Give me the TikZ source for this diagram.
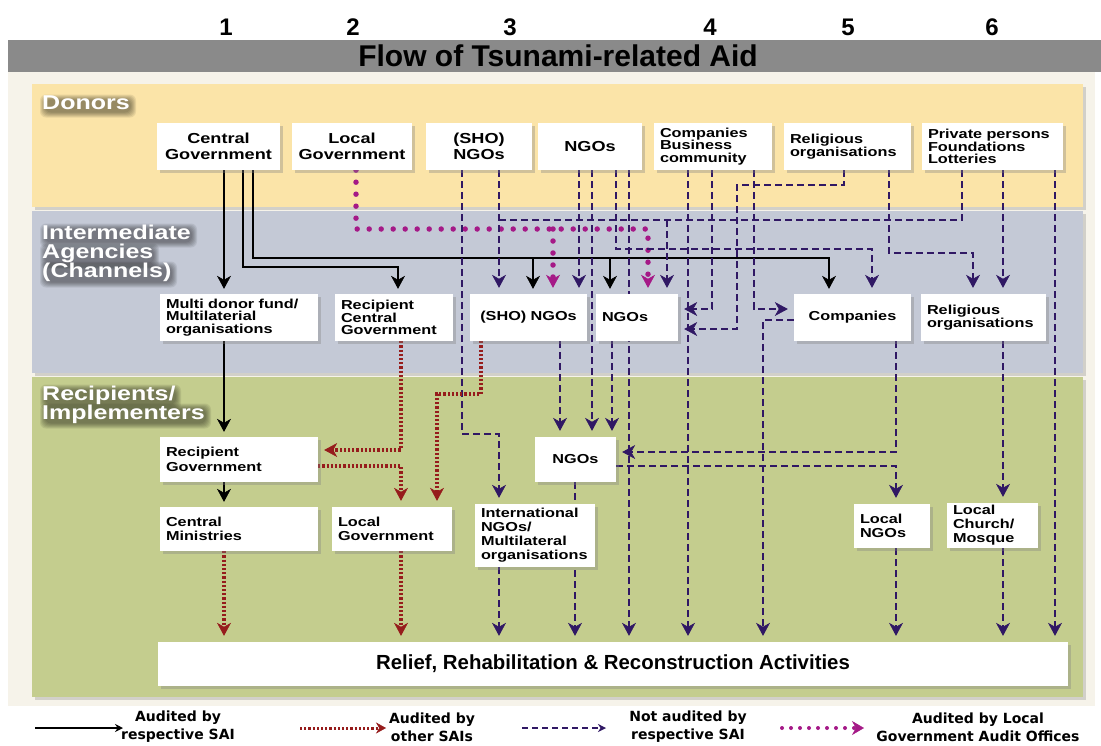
\documentclass[tikz,border=0pt]{standalone}
\usepackage{fontspec}
\setmainfont{Liberation Sans}
\newfontfamily\bxfont{Liberation Sans}[FakeStretch=1.25]
\newfontfamily\lgfont{DejaVu Sans}
\usetikzlibrary{arrows.meta,shadows,calc}
\definecolor{navyc}{RGB}{48,24,100}
\definecolor{maroonc}{RGB}{150,28,28}
\definecolor{magc}{RGB}{165,25,135}
\definecolor{donc}{RGB}{251,228,168}
\definecolor{intc}{RGB}{196,201,214}
\definecolor{recc}{RGB}{196,205,142}
\definecolor{creamc}{RGB}{246,243,234}
\definecolor{barc}{RGB}{138,138,138}
\pgfdeclarelayer{bg}
\pgfdeclarelayer{lines}
\pgfsetlayers{bg,lines,main}
\newcommand\fbig{\bxfont\bfseries\fontsize{14.5}{16.5}\selectfont}
\newcommand\fsm{\bxfont\bfseries\fontsize{13}{12.5}\selectfont}
\newcommand\frec{\bxfont\bfseries\fontsize{13}{14.5}\selectfont}
\newcommand\mybox[7]{%
 \pgfmathsetmacro\bxw{#4-#2-12}%
 \pgfmathsetmacro\bxh{#5-#3}%
 \pgfmathsetmacro\bxcx{(#2+#4)/2}%
 \pgfmathsetmacro\bxcy{(#3+#5)/2}%
 \node[box,#6,text width=\bxw pt,minimum height=\bxh pt] (#1) at (\bxcx,\bxcy) {#7};}
% soft dark glow behind a panel label line
\newcommand\softsh[4]{%
 \foreach \i in {0,...,5}{%
  \fill[black,opacity=0.08,rounded corners=6pt] (#1-4+\i+2,#2-4+\i+2.5) rectangle (#3+4-\i+2,#4+4-\i+2.5);}}
\tikzset{
 box/.style={fill=white,inner xsep=6pt,inner ysep=2pt,
   drop shadow={shadow xshift=2.5pt,shadow yshift=-2.5pt,opacity=0.35}},
 tipa/.style={-{Stealth[length=13pt,width=14pt,inset=4pt,line width=0.6pt]}},
 blk/.style={draw=black,line width=1.8pt,tipa,shorten >=5pt},
 nav/.style={draw=navyc,line width=1.8pt,dash pattern=on 7pt off 4pt,tipa,shorten >=6pt},
 navn/.style={draw=navyc,line width=1.8pt,dash pattern=on 7pt off 4pt},
 rdot/.style={draw=maroonc,line width=3.6pt,dash pattern=on 2.2pt off 2pt,tipa,shorten >=6pt},
 mdot/.style={draw=magc,line width=5.5pt,line cap=round,dash pattern=on 0pt off 12pt,tipa,shorten >=6pt},
 lbl/.style={anchor=north west,inner sep=0pt,align=left,text=white,font=\bxfont\bfseries\fontsize{20}{19}\selectfont},
 num/.style={font=\bfseries\fontsize{24}{26}\selectfont,inner sep=0pt},
 lgt/.style={align=center,inner sep=0pt,font=\lgfont\bfseries\fontsize{14}{18}\selectfont},
}
\begin{document}
\begin{tikzpicture}[x=1pt,y=-1pt]
\useasboundingbox (0,0) rectangle (1101,745);
\begin{pgfonlayer}{bg}
 \fill[white] (0,0) rectangle (1101,745);
 \fill[creamc] (8,72) rectangle (1095,706);
 \fill[barc] (8,40) rectangle (1101,72);
 \fill[donc,drop shadow={shadow xshift=3pt,shadow yshift=-3pt,opacity=0.3}] (32,84) rectangle (1083,207);
 \fill[intc,drop shadow={shadow xshift=3pt,shadow yshift=-3pt,opacity=0.3}] (32,211) rectangle (1083,373);
 \fill[recc,drop shadow={shadow xshift=3pt,shadow yshift=-3pt,opacity=0.3}] (32,377) rectangle (1083,697);
 % soft glows behind the panel labels
 \softsh{42}{96}{130}{111}
 \softsh{42}{225}{191}{241}
 \softsh{42}{245}{153}{262}
 \softsh{42}{263}{171}{281}
 \softsh{42}{386}{175}{403}
 \softsh{42}{405}{205}{422}
\end{pgfonlayer}

\foreach \x in {224,243,253,356,398,401,437,462,481,499,533,553,560,575,579,592,610,612,616,629,648,667,688,712,737,754,763,829,844,872,889,896,962,973,1003,1055}
  \coordinate (c\x) at (\x,0);
\foreach \y in {185,220,229,249,253,258,267,309,320,329,394,434,450,452,466}
  \coordinate (r\y) at (0,\y);

% title and column numbers
\node[font=\bfseries\fontsize{30}{32}\selectfont,inner sep=0pt] (title) at (558,56) {Flow of Tsunami-related Aid};
\node[num] (n1) at (226,27) {1};
\node[num] (n2) at (353,27) {2};
\node[num] (n3) at (510,27) {3};
\node[num] (n4) at (710,27) {4};
\node[num] (n5) at (848,27) {5};
\node[num] (n6) at (992,27) {6};

% panel labels
\node[lbl] (ldon) at (42,96) {Donors};
\node[lbl] (lint) at (42,225) {Intermediate\\Agencies\\(Channels)};
\node[lbl] (lrec) at (42,386) {Recipients/\\Implementers};

% donors
\mybox{dcg}{157}{123}{280}{170}{align=center,font=\fbig}{Central\\Government}
\mybox{dlg}{292}{123}{412}{170}{align=center,font=\fbig}{Local\\Government}
\mybox{dsho}{426}{123}{532}{170}{align=center,font=\fbig}{(SHO)\\NGOs}
\mybox{dngo}{538}{123}{642}{170}{align=center,font=\fbig}{NGOs}
\mybox{dcomp}{654}{123}{772}{170}{align=left,font=\fsm}{Companies\\Business\\community}
\mybox{drel}{784}{123}{911}{170}{align=left,font=\fsm}{Religious\\organisations}
\mybox{dpriv}{922}{123}{1063}{170}{align=left,font=\fsm}{Private persons\\Foundations\\Lotteries}

% intermediate
\mybox{imd}{160}{294}{318}{341}{align=left,font=\fsm}{Multi donor fund/\\Multilaterial\\organisations}
\mybox{irc}{335}{294}{453}{341}{align=left,font=\fsm}{Recipient\\Central\\Government}
\mybox{isho}{470}{294}{587}{341}{align=center,font=\fsm}{(SHO) NGOs}
\mybox{ingo}{596}{294}{678}{341}{align=left,font=\fsm}{NGOs}
\mybox{icomp}{794}{294}{911}{341}{align=center,font=\fsm}{Companies}
\mybox{irel}{921}{294}{1046}{341}{align=left,font=\fsm}{Religious\\organisations}

% recipients
\mybox{rrg}{160}{437}{318}{482}{align=left,font=\frec}{Recipient\\Government}
\mybox{rcm}{160}{507}{318}{551}{align=left,font=\frec}{Central\\Ministries}
\mybox{rlg}{332}{507}{452}{551}{align=left,font=\frec}{Local\\Government}
\mybox{rngo}{535}{437}{616}{482}{align=center,font=\frec}{NGOs}
\mybox{rint}{475}{504}{595}{567}{align=left,font=\bxfont\bfseries\fontsize{13}{14}\selectfont}{International\\NGOs/\\Multilateral\\organisations}
\mybox{rlngo}{854}{504}{930}{548}{align=left,font=\frec}{Local\\NGOs}
\mybox{rchurch}{947}{503}{1038}{548}{align=left,font=\bxfont\bfseries\fontsize{13}{14}\selectfont}{Local\\Church/\\Mosque}
\node[box,font=\bfseries\fontsize{20.4}{22}\selectfont,minimum width=910pt,minimum height=44pt] (relief) at (613,664) {Relief, Rehabilitation \& Reconstruction Activities};

% legend
\coordinate (lg1a) at (35,728); \coordinate (lg1b) at (123,728);
\coordinate (lg2a) at (300,728); \coordinate (lg2b) at (386,728);
\coordinate (lg3a) at (522,728); \coordinate (lg3b) at (606,728);
\coordinate (lg4a) at (782,728); \coordinate (lg4b) at (864,728);
\node[lgt] (lt1) at (178,727) {Audited by\\respective SAI};
\node[lgt] (lt2) at (432,727) {Audited by\\other SAIs};
\node[lgt] (lt3) at (688,727) {Not audited by\\respective SAI};
\node[lgt] (lt4) at (978,727) {Audited by Local\\Government Audit Offices};
\draw[black,line width=1.5pt,-{Stealth[length=8pt,width=8pt]}] (lg1a) -- (lg1b);
\draw[maroonc,line width=3pt,dash pattern=on 2.2pt off 2pt,-{Stealth[length=10pt,width=11pt,line width=0.5pt]}] (lg2a) -- (lg2b);
\draw[navyc,line width=1.6pt,dash pattern=on 6pt off 4pt,-{Stealth[length=8pt,width=8pt,line width=0.5pt]}] (lg3a) -- (lg3b);
\draw[magc,line width=4pt,line cap=round,dash pattern=on 0pt off 9pt,-{Stealth[length=12pt,width=14pt,line width=0.5pt]}] (lg4a) -- (lg4b);

\begin{pgfonlayer}{lines}
% black: audited by respective SAI
\draw[blk] (dcg.south -| c224) -- (imd.north -| c224);
\draw[blk] (dcg.south -| c243) |- (c398 |- r267) -- (irc.north -| c398);
\draw[blk] (dcg.south -| c253) |- (c829 |- r258) -- (icomp.north -| c829);
\draw[blk] (c533 |- r258) -- (isho.north -| c533);
\draw[blk] (c610 |- r258) -- (ingo.north -| c610);
\draw[blk] (imd.south -| c224) -- (rrg.north -| c224);
\draw[blk] (rrg.south -| c224) -- (rcm.north -| c224);
% magenta: local government audit offices
\draw[mdot] (dlg.south -| c356) |- (c648 |- r229) -- (ingo.north -| c648);
\draw[mdot] (c553 |- r229) -- (isho.north -| c553);
% navy dashed: not audited
\draw[nav] (dsho.south -| c462) |- (c499 |- r434) -- (rint.north -| c499);
\draw[nav] (dsho.south -| c499) -- (isho.north -| c499);
\draw[navn] (dpriv.south -| c962) |- (c499 |- r220);
\draw[nav] (c667 |- r220) -- (ingo.north -| c667);
\draw[nav] (dngo.south -| c579) -- (isho.north -| c579);
\draw[nav] (dngo.south -| c592) -- (rngo.north -| c592);
\draw[nav] (dngo.south -| c616) |- (c872 |- r249) -- (icomp.north -| c872);
\draw[nav] (dngo.south -| c629) -- (relief.north -| c629);
\draw[nav] (dcomp.south -| c688) -- (relief.north -| c688);
\draw[nav] (dcomp.south -| c712) |- (ingo.east |- r309);
\draw[nav] (dcomp.south -| c754) |- (icomp.west |- r309);
\draw[nav] (drel.south -| c844) |- (c737 |- r185) |- (ingo.east |- r329);
\draw[nav] (drel.south -| c889) |- (c973 |- r253) -- (irel.north -| c973);
\draw[nav] (dpriv.south -| c1003) -- (irel.north -| c1003);
\draw[nav] (dpriv.south -| c1055) -- (relief.north -| c1055);
\draw[nav] (isho.south -| c560) -- (rngo.north -| c560);
\draw[nav] (ingo.south -| c612) -- (rngo.north -| c612);
\draw[nav] (icomp.west |- r320) -| (relief.north -| c763);
\draw[nav] (icomp.south -| c896) |- (rngo.east |- r452);
\draw[nav] (rngo.east |- r466) -| (rlngo.north -| c896);
\draw[nav] (irel.south -| c1003) -- (rchurch.north -| c1003);
\draw[nav] (rint.south -| c499) -- (relief.north -| c499);
\draw[nav] (rngo.south -| c575) -- (relief.north -| c575);
\draw[nav] (rlngo.south -| c896) -- (relief.north -| c896);
\draw[nav] (rchurch.south -| c1003) -- (relief.north -| c1003);
% red dotted: other SAIs
\draw[rdot] (irc.south -| c401) |- (rrg.east |- r450);
\draw[rdot] (rrg.east |- r466) -| (rlg.north -| c401);
\draw[rdot] (isho.south -| c481) |- (c437 |- r394) -- (rlg.north -| c437);
\draw[rdot] (rcm.south -| c224) -- (relief.north -| c224);
\draw[rdot] (rlg.south -| c401) -- (relief.north -| c401);
\end{pgfonlayer}
\end{tikzpicture}
\end{document}
